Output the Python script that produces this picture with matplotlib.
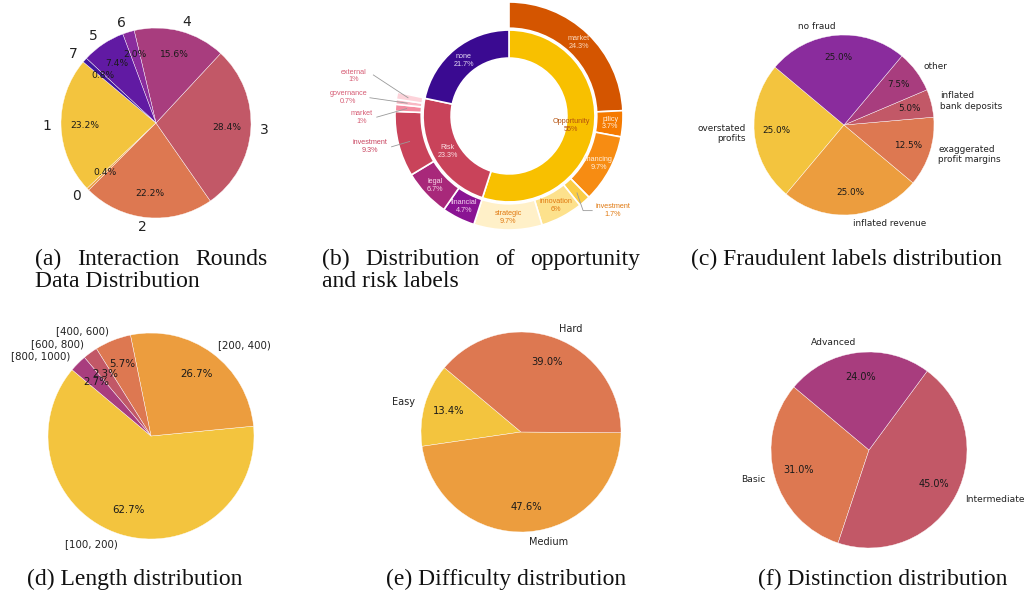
import numpy as np
import matplotlib
matplotlib.use('Agg')
import matplotlib.pyplot as plt

W, H = 1029, 594

# (a) interaction rounds
rounds_labels = ['1', '0', '2', '3', '4', '6', '5', '7']
rounds_pct = [23.2, 0.4, 22.2, 28.4, 15.6, 2.0, 7.4, 0.8]

# (b) opportunity / risk labels
inner_labels = ['Opportunity', 'Risk', 'none']
inner_pct = [55, 23.3, 21.7]
outer_labels = ['market', 'pilicy', 'financing', 'investment', 'innovation', 'strategic',
                'financial', 'legal', 'investment', 'market', 'governance', 'external']
outer_pct = [24.3, 3.7, 9.7, 1.7, 6, 9.7, 4.7, 6.7, 9.3, 1, 0.7, 1]

# (c) fraudulent labels
fraud_labels = ['overstated\nprofits', 'inflated revenue', 'exaggerated\nprofit margins',
                'inflated\nbank deposits', 'other', 'no fraud']
fraud_pct = [25.0, 25.0, 12.5, 5.0, 7.5, 25.0]

# (d) length
length_labels = ['[100, 200)', '[200, 400)', '[400, 600)', '[600, 800)', '[800, 1000)']
length_pct = [62.7, 26.7, 5.7, 2.3, 2.7]

# (e) difficulty
diff_labels = ['Easy', 'Medium', 'Hard']
diff_pct = [13.4, 47.6, 39.0]

# (f) distinction
dist_labels = ['Basic', 'Intermediate', 'Advanced']
dist_pct = [31.0, 45.0, 24.0]

pal = ['#f3c237', '#ec9a37', '#dc744b', '#c05262', '#a5367a', '#86259a', '#5c12a0', '#3b0f9a']

fig = plt.figure(figsize=(W / 100, H / 100), dpi=100)


def pie_axes(cx, cy, r, lim=1.7):
    s = r * lim
    ax = fig.add_axes([(cx - s) / W, 1 - (cy + s) / H, 2 * s / W, 2 * s / H])
    return ax


def finish(ax, lim=1.7):
    ax.set_xlim(-lim, lim)
    ax.set_ylim(-lim, lim)
    ax.set_aspect('equal')
    ax.axis('off')


def simple_pie(cx, cy, r, vals, labels, colors, lab_fs, pct_fs):
    ax = pie_axes(cx, cy, r)
    tot = sum(vals)
    _, texts, autotexts = ax.pie(vals, labels=labels, colors=colors, startangle=140,
                                 autopct=lambda p: f'{p * tot / 100:.1f}%',
                                 pctdistance=0.75, labeldistance=1.1,
                                 wedgeprops=dict(edgecolor='white', linewidth=0.3, alpha=0.97))
    for t in texts:
        t.set_fontsize(lab_fs)
        t.set_color('#222222')
    for t in autotexts:
        t.set_fontsize(pct_fs)
        t.set_color('#1a1a1a')
    finish(ax)
    return ax


simple_pie(156, 123, 95, rounds_pct, rounds_labels, pal, 10, 6.6)
simple_pie(844, 125, 90, fraud_pct, fraud_labels, pal[:6], 6.4, 6.4)
simple_pie(151, 436, 103, length_pct, length_labels, pal[:5], 7.4, 7.4)
simple_pie(521, 432, 100, diff_pct, diff_labels, pal[:3], 7.0, 7.2)
simple_pie(869, 450, 98, dist_pct, dist_labels, pal[2:5], 6.6, 7.0)

# (b) nested donut
inner_colors = ['#f8c000', '#c9435a', '#3a0a91']
outer_colors = ['#d45500', '#f57a00', '#f78c12', '#fbcd45', '#fde18c', '#fff0c8',
                '#8a1393', '#a8287a', '#c9435a', '#f48ca0', '#f9b8c4', '#fdd3da']
inner_txt = ['#b4520f', '#fbe0e6', '#e6dcf5']
outer_txt = ['#fcd9bd', '#fff0e0', '#fff0e0', '#e0780f', '#e0780f', '#e0780f',
             '#f5d5f0', '#f8d8e8', '#c94560', '#d65c74', '#d65c74', '#d65c74']
inner_r = [0.55, 0.62, 0.63]
# outside callouts: text centre, line start
callouts = {3: ((0.91, -0.83), (0.73, -0.83)),
            8: ((-1.22, -0.265), (-1.03, -0.27)),
            9: ((-1.29, -0.01), (-1.16, -0.01)),
            10: ((-1.41, 0.16), (-1.22, 0.16)),
            11: ((-1.36, 0.35), (-1.19, 0.36))}

axb = pie_axes(509, 116, 114)
wo, _ = axb.pie(outer_pct + [inner_pct[2]], radius=1.0, startangle=90, counterclock=False,
                colors=outer_colors + ['white'],
                wedgeprops=dict(width=0.23, edgecolor='white', linewidth=1.2))
wo[-1].set_visible(False)
wi, _ = axb.pie(inner_pct, radius=0.754, startangle=90, counterclock=False,
                colors=inner_colors,
                wedgeprops=dict(width=0.246, edgecolor='white', linewidth=1.2))

bfont = dict(family=['Liberation Sans', 'DejaVu Sans'], fontsize=5.2, ha='center', va='center',
             linespacing=1.15)
for i, w in enumerate(wi):
    a = np.deg2rad((w.theta1 + w.theta2) / 2)
    axb.text(inner_r[i] * np.cos(a), inner_r[i] * np.sin(a),
             f'{inner_labels[i]}\n{inner_pct[i]:g}%', color=inner_txt[i], **bfont)
for i in range(len(outer_labels)):
    w = wo[i]
    a = np.deg2rad((w.theta1 + w.theta2) / 2)
    txt = f'{outer_labels[i]}\n{outer_pct[i]:g}%'
    if i in callouts:
        (tx, ty), (lx, ly) = callouts[i]
        ax_, ay_ = 0.9 * np.cos(a), 0.9 * np.sin(a)
        if i == 3:
            axb.plot([lx, 0.65, ax_], [ly, ly, ay_], color='#9a9a9a', lw=0.6)
        else:
            axb.plot([lx, ax_], [ly, ay_], color='#9a9a9a', lw=0.6)
        axb.text(tx, ty, txt, color=outer_txt[i], **bfont)
    else:
        axb.text(0.89 * np.cos(a), 0.89 * np.sin(a), txt, color=outer_txt[i], **bfont)
finish(axb)

# captions
cap = dict(family=['Liberation Serif', 'DejaVu Serif'], fontsize=17, va='baseline', color='#111111')
rend = fig.canvas.get_renderer()


def justify(words, x0, x1, y):
    ts = [fig.text(0, 1 - y / H, w, **cap) for w in words]
    widths = [t.get_window_extent(rend).width for t in ts]
    gap = (x1 - x0 - sum(widths)) / (len(words) - 1)
    x = x0
    for t, w in zip(ts, widths):
        t.set_x(x / W)
        x += w + gap


justify(['(a)', 'Interaction', 'Rounds'], 35, 268, 265)
fig.text(35 / W, 1 - 287 / H, 'Data Distribution', **cap)
justify(['(b)', 'Distribution', 'of', 'opportunity'], 322, 640, 265)
fig.text(322 / W, 1 - 287 / H, 'and risk labels', **cap)
fig.text(691 / W, 1 - 265 / H, '(c) Fraudulent labels distribution', **cap)
fig.text(27 / W, 1 - 585 / H, '(d) Length distribution', **cap)
fig.text(386 / W, 1 - 585 / H, '(e) Difficulty distribution', **cap)
fig.text(758 / W, 1 - 585 / H, '(f) Distinction distribution', **cap)

fig.savefig('out.png', dpi=100)
